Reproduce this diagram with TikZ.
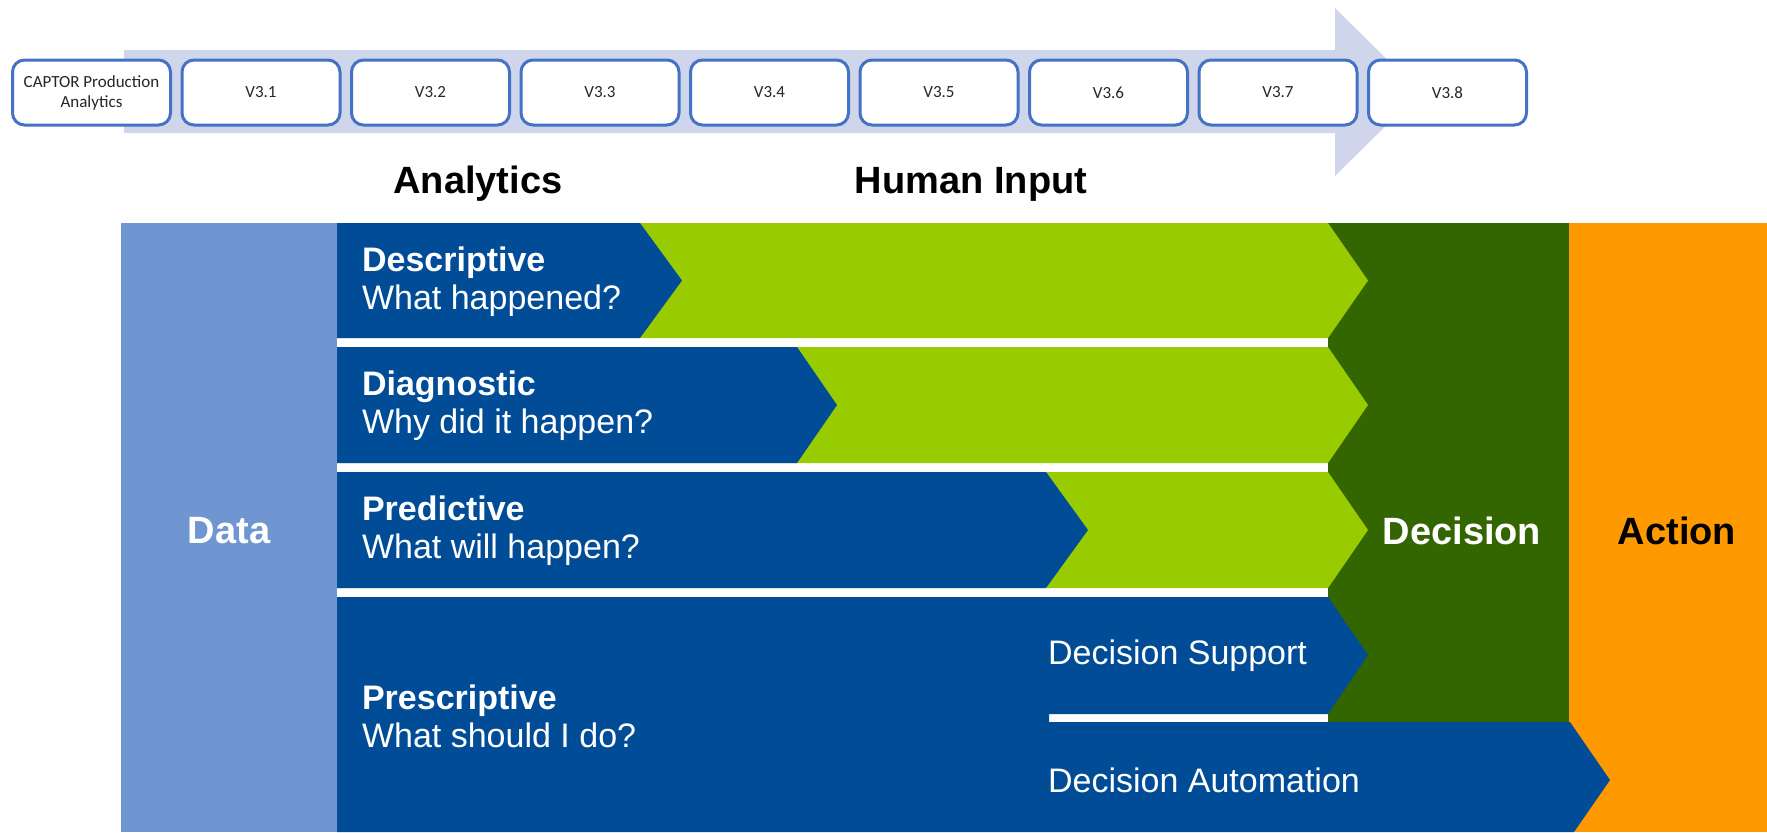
\documentclass[tikz,border=0pt]{standalone}
\usepackage{fontspec}
\setmainfont{Liberation Sans}
\newfontfamily\boxfont{Carlito}

\definecolor{bandblue}{RGB}{207,213,234}
\definecolor{boxline}{RGB}{68,114,196}
\definecolor{datablue}{RGB}{112,150,210}
\definecolor{rowblue}{RGB}{0,76,151}
\definecolor{limegreen}{RGB}{153,204,0}
\definecolor{darkgreen}{RGB}{51,102,0}
\definecolor{actionorange}{RGB}{255,153,0}

\tikzset{
  version/.style={draw=boxline, line width=1.5pt, rounded corners=6pt, fill=white,
    minimum width=79pt, minimum height=32.5pt, align=center, text=black!85,
    font=\boxfont\fontsize{8.5}{10}\selectfont},
  rowtext/.style={anchor=west, align=left, text=white, font=\fontsize{17}{19}\selectfont},
  bigword/.style={font=\bfseries\fontsize{19}{22}\selectfont},
}

\begin{document}
\begin{tikzpicture}[x=0.5pt, y=-0.5pt]
      \useasboundingbox (0,0) rectangle (1767,832);
      % release arrow behind the boxes
      \fill[bandblue] (124,50) -- (1335,50) -- (1335,8) -- (1420,92) -- (1335,176) -- (1335,133) -- (124,133) -- cycle;
      \node[version] (captor) at (91.5,92.5) {CAPTOR Production\\Analytics};
      \node[version] (v31) at (261,92.5) {V3.1};
      \node[version] (v32) at (430.5,92.5) {V3.2};
      \node[version] (v33) at (600,92.5) {V3.3};
      \node[version] (v34) at (769.5,92.5) {V3.4};
      \node[version] (v35) at (939,92.5) {V3.5};
      \node[version] (v36) at (1108.5,92.5) {V3.6};
      \node[version] (v37) at (1278,92.5) {V3.7};
      \node[version] (v38) at (1447.5,92.5) {V3.8};

      \node[bigword] (analytics) at (478,184) {Analytics};
      \node[bigword] (human) at (971,184) {Human Input};

      % columns
      \fill[datablue] (121,223) rectangle (337,832);
      \fill[darkgreen] (1328,223) rectangle (1569,722);
      \fill[actionorange] (1569,223) rectangle (1767,832);

      % rows
      \fill[limegreen] (337,223) -- (1328,223) -- (1368,280.5) -- (1328,338) -- (337,338) -- cycle;
      \fill[rowblue] (337,223) -- (640,223) -- (682,280.5) -- (640,338) -- (337,338) -- cycle;
      \fill[limegreen] (337,347) -- (1328,347) -- (1368,405) -- (1328,463) -- (337,463) -- cycle;
      \fill[rowblue] (337,347) -- (797,347) -- (837,405) -- (797,463) -- (337,463) -- cycle;
      \fill[limegreen] (337,472) -- (1328,472) -- (1368,530) -- (1328,588) -- (337,588) -- cycle;
      \fill[rowblue] (337,472) -- (1046,472) -- (1088,530) -- (1046,588) -- (337,588) -- cycle;
      \fill[rowblue] (337,597) -- (1328,597) -- (1368,655) -- (1328,714) -- (1049,714) -- (1049,722)
        -- (1570,722) -- (1610,780) -- (1574,832) -- (337,832) -- cycle;

      \node[bigword, text=white] (data) at (229,531) {Data};
      \node[bigword, text=white] (decision) at (1462,531) {Decision};
      \node[bigword] (action) at (1677,531) {Action};

      \node[rowtext] (descriptive) at (355,282) {\textbf{Descriptive}\\What happened?};
      \node[rowtext] (diagnostic) at (355,406) {\textbf{Diagnostic}\\Why did it happen?};
      \node[rowtext] (predictive) at (355,531) {\textbf{Predictive}\\What will happen?};
      \node[rowtext] (prescriptive) at (355,716) {\textbf{Prescriptive}\\What should I do?};
      \node[rowtext] (support) at (1041,656) {Decision Support};
      \node[rowtext] (automation) at (1041,780) {Decision Automation};
    \end{tikzpicture}
\end{document}
